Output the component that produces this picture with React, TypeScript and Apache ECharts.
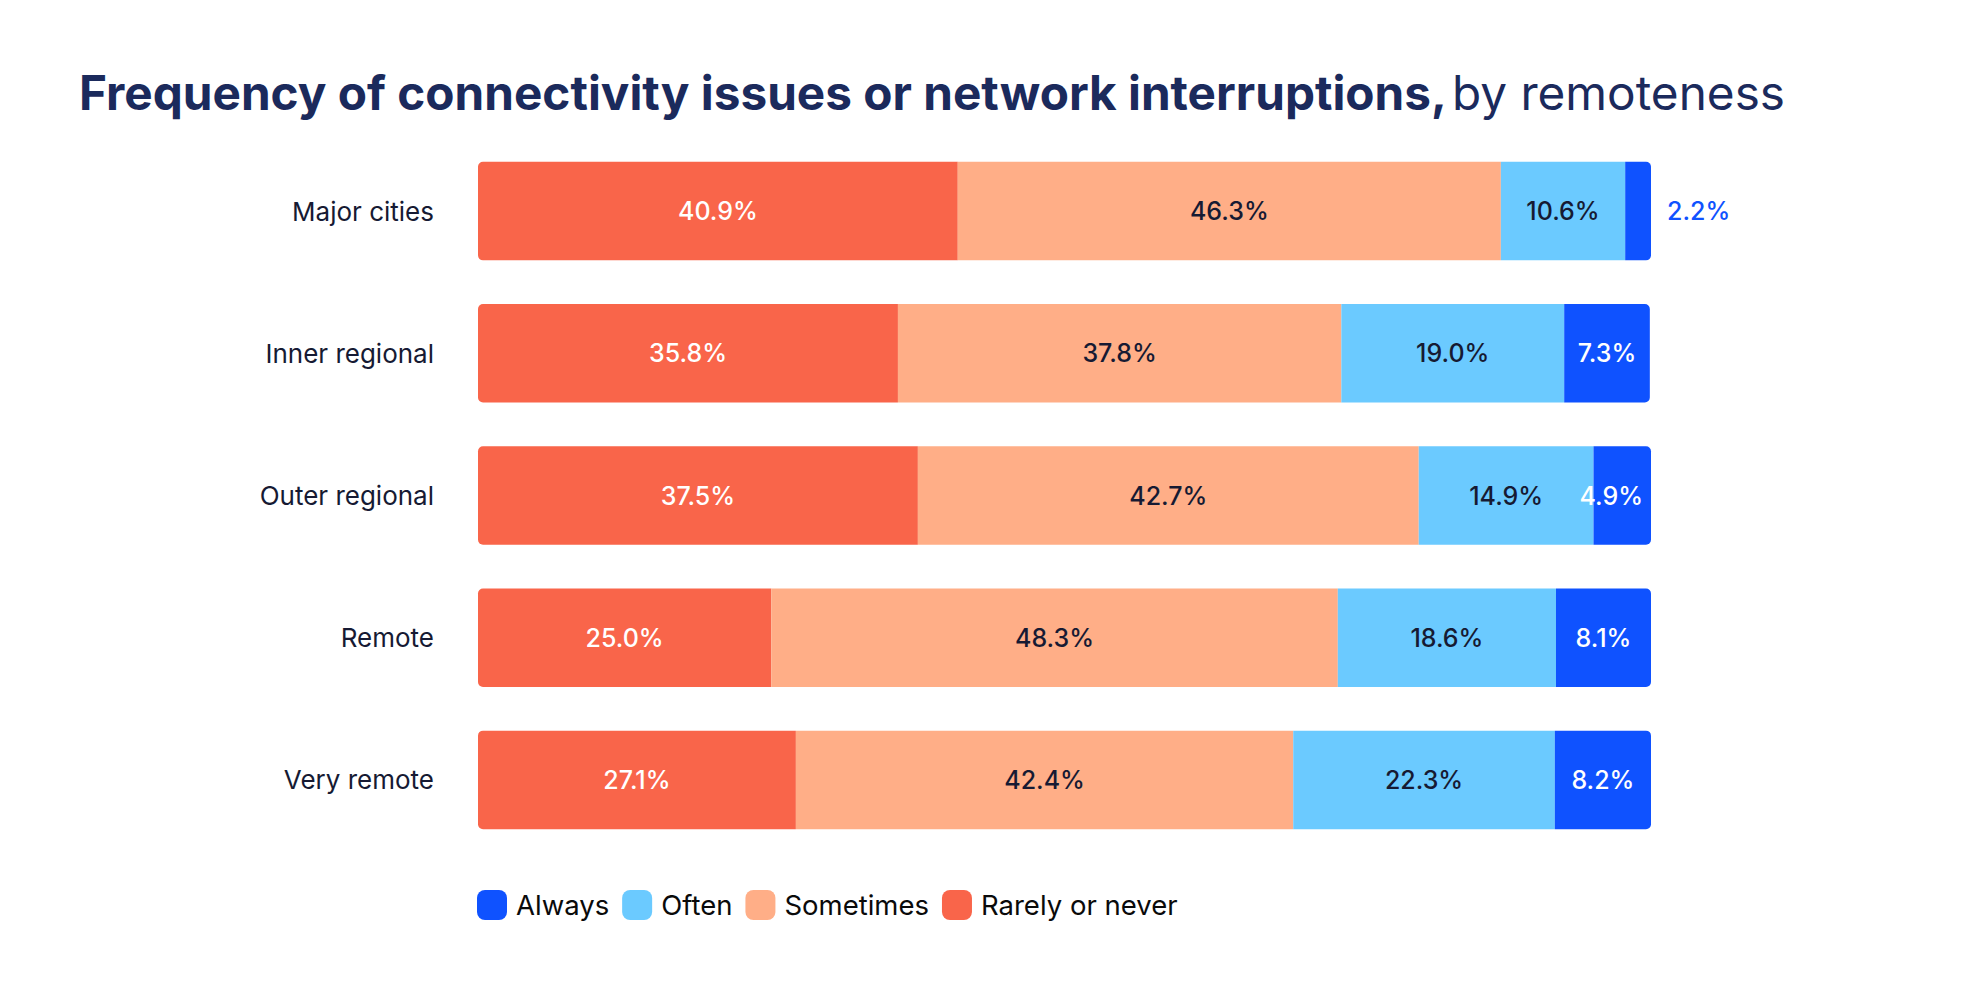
import React, { useEffect, useRef } from "react";
import * as echarts from "echarts";

const categories = ["Major cities", "Inner regional", "Outer regional", "Remote", "Very remote"];
const rarelyOrNever = [40.9, 35.8, 37.5, 25.0, 27.1];
const sometimes = [46.3, 37.8, 42.7, 48.3, 42.4];
const often = [10.6, 19.0, 14.9, 18.6, 22.3];
const always = [2.2, 7.3, 4.9, 8.1, 8.2];
const legendOrder = ["Always", "Often", "Sometimes", "Rarely or never"];

const FONT = "Inter";
const NAVY = "#1B2A5C";
const DARK = "#161a33";

const colors: Record<string, string> = {
  "Rarely or never": "#F9654A",
  Sometimes: "#FFAE87",
  Often: "#6BCAFF",
  Always: "#0F52FF",
};

const fmt = (p: any) => Number(p.value).toFixed(1) + "%";

export default function App() {
  const ref = useRef<HTMLDivElement>(null);
  useEffect(() => {
    document.body.style.margin = "0";
    const chart = echarts.init(ref.current!, undefined, { renderer: "svg" });
    const mk = (name: string, vals: number[], textColor: string, radius: number[]) => ({
      name,
      type: "bar",
      stack: "total",
      barCategoryGap: "30.7%",
      itemStyle: { color: colors[name], borderRadius: radius },
      label: {
        show: true,
        position: "inside",
        formatter: fmt,
        color: textColor,
        fontFamily: FONT,
        fontWeight: 500,
        fontSize: 25,
      },
      data: vals.map((v) => {
        if (name === "Always" && v < 3) {
          return { value: v, label: { position: "right", distance: 16, color: "#0F52FF" } };
        }
        if (name === "Always" && v < 6) {
          return { value: v, label: { position: "insideRight", distance: 8 } };
        }
        return v;
      }),
    });
    chart.setOption({
      animation: false,
      title: {
        left: 74,
        top: 64,
        text: "{b|Frequency of connectivity issues or network interruptions,} {r|by remoteness}",
        textStyle: {
          rich: {
            b: { fontFamily: FONT, fontWeight: 700, fontSize: 47.7, color: NAVY },
            r: { fontFamily: FONT, fontWeight: 400, fontSize: 47.7, color: NAVY },
          },
        },
      },
      legend: {
        data: legendOrder,
        left: 477,
        top: 890,
        padding: 0,
        itemWidth: 30,
        itemHeight: 30,
        itemGap: 13,
        icon: "path://M8,0 H22 A8,8 0 0 1 30,8 V22 A8,8 0 0 1 22,30 H8 A8,8 0 0 1 0,22 V8 A8,8 0 0 1 8,0 Z",
        textStyle: { fontFamily: FONT, fontSize: 27.5, color: "#0a0a0a", padding: [0, 0, 0, 4] },
      },
      grid: { left: 478, right: 331, top: 140, bottom: 998 - 851, containLabel: false },
      xAxis: {
        type: "value",
        min: 0,
        max: 100,
        show: false,
      },
      yAxis: {
        type: "category",
        inverse: true,
        data: categories,
        axisLine: { show: false },
        axisTick: { show: false },
        axisLabel: { fontFamily: FONT, fontSize: 26, color: DARK, margin: 44 },
      },
      series: [
        mk("Rarely or never", rarelyOrNever, "#ffffff", [5, 0, 0, 5]),
        mk("Sometimes", sometimes, DARK, [0, 0, 0, 0]),
        mk("Often", often, DARK, [0, 0, 0, 0]),
        mk("Always", always, "#ffffff", [0, 5, 5, 0]),
      ],
    });
    return () => chart.dispose();
  }, []);
  return <div ref={ref} style={{ width: 1982, height: 998 }} />;
}
